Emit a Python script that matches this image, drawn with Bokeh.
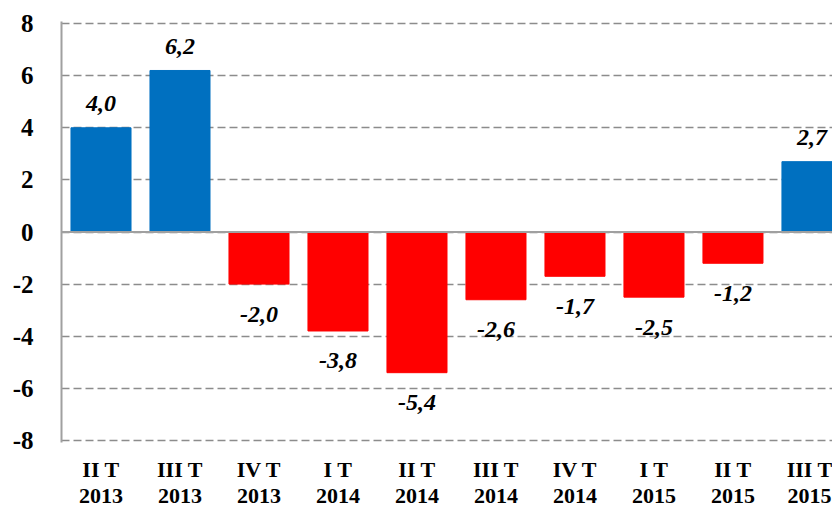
from bokeh.plotting import figure
from bokeh.models import Range1d, FixedTicker, ColumnDataSource, Span
from bokeh.core.properties import value
from bokeh.embed import file_html
from bokeh.resources import INLINE

quarters = ["II T", "III T", "IV T", "I T", "II T", "III T", "IV T", "I T", "II T", "III T"]
years = ["2013", "2013", "2013", "2014", "2014", "2014", "2014", "2015", "2015", "2015"]
values = [4.0, 6.2, -2.0, -3.8, -5.4, -2.6, -1.7, -2.5, -1.2, 2.7]
y_ticks = [-8, -6, -4, -2, 0, 2, 4, 6, 8]

BLUE = "#0070C0"
RED = "#FF0000"
GRID = "#8C8C8C"
FONT = "Liberation Serif"

xs = [i + 0.5 for i in range(len(values))]
colors = [BLUE if v >= 0 else RED for v in values]
labels = [f"{v:.1f}".replace(".", ",") for v in values]
label_off = [-24 if v >= 0 else 30 for v in values]

src = ColumnDataSource(dict(x=xs, top=values, color=colors, label=labels, off=label_off))

pad = 0.08
p = figure(width=832, height=510, output_backend="svg", toolbar_location=None,
           x_range=Range1d(0, 9.76), y_range=Range1d(y_ticks[0] - pad, y_ticks[-1] + pad),
           min_border_left=61, min_border_right=0, min_border_top=21, min_border_bottom=0)
p.outline_line_color = None
p.background_fill_color = "white"

p.vbar(x="x", top="top", bottom=0, width=0.76, color="color", source=src)

p.text(x="x", y="top", text="label", source=src, y_offset="off",
       text_align="center", text_baseline="middle",
       text_font=value(FONT), text_font_style="bold italic",
       text_font_size="24px", text_color="black")

p.add_layout(Span(location=0, dimension="width", line_color="#A0A0A0", line_width=2))

# grid
p.xgrid.grid_line_color = None
p.ygrid.ticker = FixedTicker(ticks=y_ticks)
p.ygrid.grid_line_color = GRID
p.ygrid.grid_line_dash = "8 4"
p.ygrid.grid_line_width = 1.5

# y axis
p.yaxis.ticker = FixedTicker(ticks=y_ticks)
p.yaxis.major_label_overrides = {t: str(t) for t in y_ticks}
p.yaxis.axis_line_color = "#A0A0A0"
p.yaxis.axis_line_width = 2
p.yaxis.major_tick_line_color = None
p.yaxis.minor_tick_line_color = None
p.yaxis.major_label_standoff = 22
p.yaxis.major_label_text_font = FONT
p.yaxis.major_label_text_font_style = "bold"
p.yaxis.major_label_text_font_size = "25px"
p.yaxis.major_label_text_color = "black"

# x axis: two-line category labels
p.xaxis.ticker = FixedTicker(ticks=xs)
p.xaxis.major_label_overrides = {x: f"{q}\n{y}" for x, q, y in zip(xs, quarters, years)}
p.xaxis.axis_line_color = None
p.xaxis.major_tick_line_color = None
p.xaxis.minor_tick_line_color = None
p.xaxis.major_label_standoff = 8
p.xaxis.major_label_text_font = FONT
p.xaxis.major_label_text_font_style = "bold"
p.xaxis.major_label_text_font_size = "22px"
p.xaxis.major_label_text_line_height = 1.05
p.xaxis.major_label_text_color = "black"

open("out.html", "w").write(file_html(p, INLINE))
